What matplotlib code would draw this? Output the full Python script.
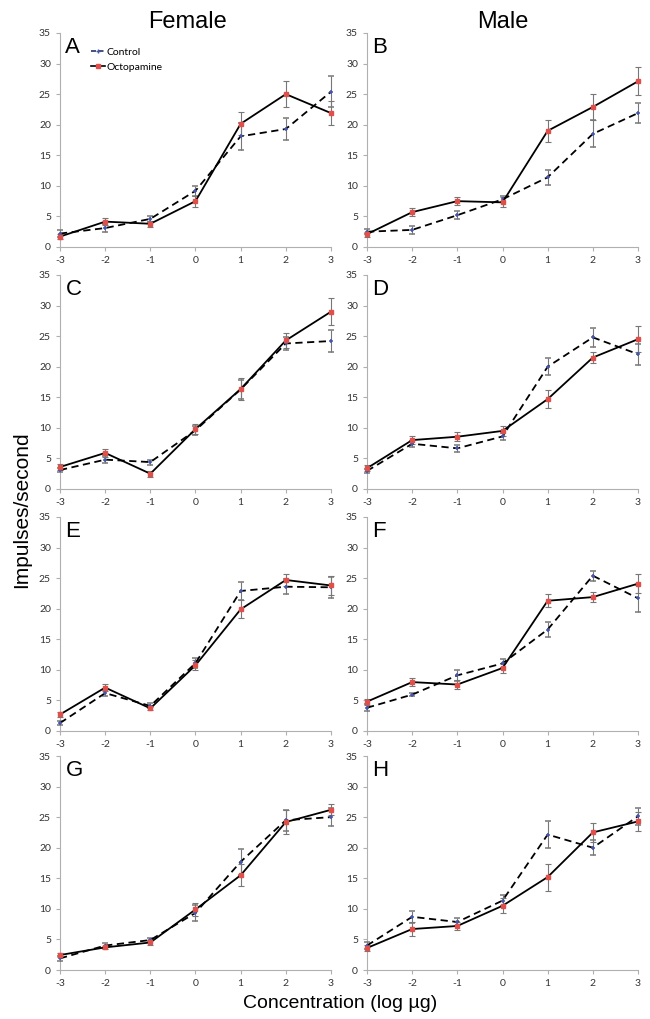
import numpy as np
import matplotlib.pyplot as plt
from matplotlib.lines import Line2D

plt.rcParams["axes.unicode_minus"] = False

conc = [-3, -2, -1, 0, 1, 2, 3]
panels = ["A", "B", "C", "D", "E", "F", "G", "H"]

# control mean / error per panel
ctrl_A = [2.2, 3.1, 4.6, 9.2, 18.1, 19.3, 25.4]
ctrl_A_err = [0.5, 0.6, 0.5, 0.8, 2.2, 1.8, 2.5]
octo_A = [1.7, 4.15, 3.8, 7.5, 20.15, 25.0, 21.9]
octo_A_err = [0.4, 0.6, 0.5, 0.9, 1.9, 2.1, 2.0]

ctrl_B = [2.5, 2.8, 5.2, 7.8, 11.4, 18.5, 21.9]
ctrl_B_err = [0.4, 0.6, 0.7, 0.5, 1.2, 2.2, 1.6]
octo_B = [2.1, 5.7, 7.5, 7.3, 19.0, 22.9, 27.1]
octo_B_err = [0.4, 0.6, 0.7, 0.8, 1.8, 2.1, 2.3]

ctrl_C = [3.1, 4.8, 4.4, 9.6, 16.3, 23.8, 24.2]
ctrl_C_err = [0.4, 0.6, 0.4, 0.7, 1.6, 1.0, 1.8]
octo_C = [3.6, 5.9, 2.5, 9.8, 16.35, 24.3, 29.0]
octo_C_err = [0.5, 0.6, 0.5, 0.8, 1.8, 1.2, 2.2]

ctrl_D = [2.95, 7.4, 6.65, 8.6, 20.0, 24.8, 22.05]
ctrl_D_err = [0.4, 0.5, 0.6, 0.6, 1.4, 1.5, 1.7]
octo_D = [3.4, 8.0, 8.55, 9.5, 14.7, 21.5, 24.5]
octo_D_err = [0.5, 0.6, 0.7, 0.8, 1.5, 0.9, 2.1]

ctrl_E = [1.3, 6.2, 4.1, 11.1, 22.9, 23.6, 23.5]
ctrl_E_err = [0.3, 0.5, 0.4, 0.8, 1.4, 1.2, 1.7]
octo_E = [2.7, 7.1, 3.7, 10.75, 19.9, 24.7, 23.8]
octo_E_err = [0.4, 0.6, 0.3, 0.8, 1.5, 1.0, 1.5]

ctrl_F = [3.8, 5.95, 9.1, 11.05, 16.6, 25.4, 21.7]
ctrl_F_err = [0.6, 0.3, 0.9, 0.7, 1.3, 0.8, 2.2]
octo_F = [4.8, 8.0, 7.6, 10.3, 21.3, 21.9, 24.1]
octo_F_err = [0.5, 0.6, 0.8, 0.8, 1.1, 0.8, 1.6]

ctrl_G = [1.9, 4.0, 4.9, 9.35, 17.7, 24.5, 25.0]
ctrl_G_err = [0.4, 0.4, 0.4, 1.3, 2.1, 1.7, 1.5]
octo_G = [2.45, 3.7, 4.5, 9.9, 15.5, 24.2, 26.2]
octo_G_err = [0.4, 0.3, 0.4, 1.0, 1.8, 2.0, 0.9]

ctrl_H = [4.0, 8.7, 7.85, 11.35, 22.15, 20.0, 25.15]
ctrl_H_err = [0.5, 1.0, 0.7, 0.9, 2.2, 1.2, 1.4]
octo_H = [3.6, 6.7, 7.2, 10.5, 15.2, 22.5, 24.3]
octo_H_err = [0.5, 1.2, 0.6, 1.2, 2.2, 1.6, 1.5]

ctrl = [ctrl_A, ctrl_B, ctrl_C, ctrl_D, ctrl_E, ctrl_F, ctrl_G, ctrl_H]
ctrl_err = [ctrl_A_err, ctrl_B_err, ctrl_C_err, ctrl_D_err, ctrl_E_err, ctrl_F_err, ctrl_G_err, ctrl_H_err]
octo = [octo_A, octo_B, octo_C, octo_D, octo_E, octo_F, octo_G, octo_H]
octo_err = [octo_A_err, octo_B_err, octo_C_err, octo_D_err, octo_E_err, octo_F_err, octo_G_err, octo_H_err]

big = "Liberation Sans"
small = "Lato"
blue = "#4455aa"
red = "#e0504a"

fig = plt.figure(figsize=(6.5, 10.19), dpi=100)

lefts = [60 / 650, 367 / 650]
width = 271 / 650
bottoms = [1 - 247 / 1019, 1 - 489 / 1019, 1 - 731 / 1019, 1 - 970 / 1019]
height = 214 / 1019

for i, p in enumerate(panels):
    row, col = i // 2, i % 2
    ax = fig.add_axes([lefts[col], bottoms[row], width, height])
    ax.errorbar(conc, ctrl[i], yerr=ctrl_err[i], color="black", lw=1.3, ls=(0, (4, 2.5)),
                marker="+", ms=3.5, mec=blue, mew=1.1, ecolor="#777777", elinewidth=0.8,
                capsize=2, capthick=0.8, zorder=3, clip_on=False)
    ax.errorbar(conc, octo[i], yerr=octo_err[i], color="black", lw=1.3, ls="-",
                marker="s", ms=2.3, mfc=red, mec=red, ecolor="#777777",
                elinewidth=0.8, capsize=2, capthick=0.8, zorder=3, clip_on=False)
    ax.set_xlim(-3, 3)
    ax.set_ylim(0, 35)
    ax.set_xticks(conc)
    ax.set_yticks(range(0, 36, 5))
    for s in ["top", "right"]:
        ax.spines[s].set_visible(False)
    for s in ["left", "bottom"]:
        ax.spines[s].set_color("#b0b0b0")
        ax.spines[s].set_linewidth(0.8)
    ax.tick_params(colors="#b0b0b0", labelcolor="#333333", length=3, width=0.8,
                   labelsize=7.5)
    for lab in ax.get_xticklabels() + ax.get_yticklabels():
        lab.set_fontfamily(small)
    ax.text(0.02, 0.98, p, transform=ax.transAxes, fontsize=16, family=big,
            va="top", ha="left")
    if i == 0:
        handles = [
            Line2D([], [], color="#223366", lw=1.2, ls=(0, (3, 1.5)), marker="+",
                   ms=3, mec=blue),
            Line2D([], [], color="black", lw=1.2, marker="s", ms=2.3, mfc=red, mec=red),
        ]
        ax.legend(handles, ["Control", "Octopamine"], loc="upper left",
                  bbox_to_anchor=(0.09, 0.96), frameon=False,
                  prop={"family": small, "size": 7.5}, handlelength=1.4,
                  handletextpad=0.1, labelspacing=0.5, borderaxespad=0.2)

fig.text(188 / 650, 1 - 22 / 1019, "Female", ha="center", va="center", fontsize=17, family=big)
fig.text(503 / 650, 1 - 22 / 1019, "Male", ha="center", va="center", fontsize=17, family=big)
fig.text(22 / 650, 0.5, "Impulses/second", rotation=90, ha="center", va="center",
         fontsize=15, family=big)
fig.text(340 / 650, 1 - 1003 / 1019, "Concentration (log µg)", ha="center", va="center",
         fontsize=14, family=big)

fig.savefig("out.png", dpi=100)
